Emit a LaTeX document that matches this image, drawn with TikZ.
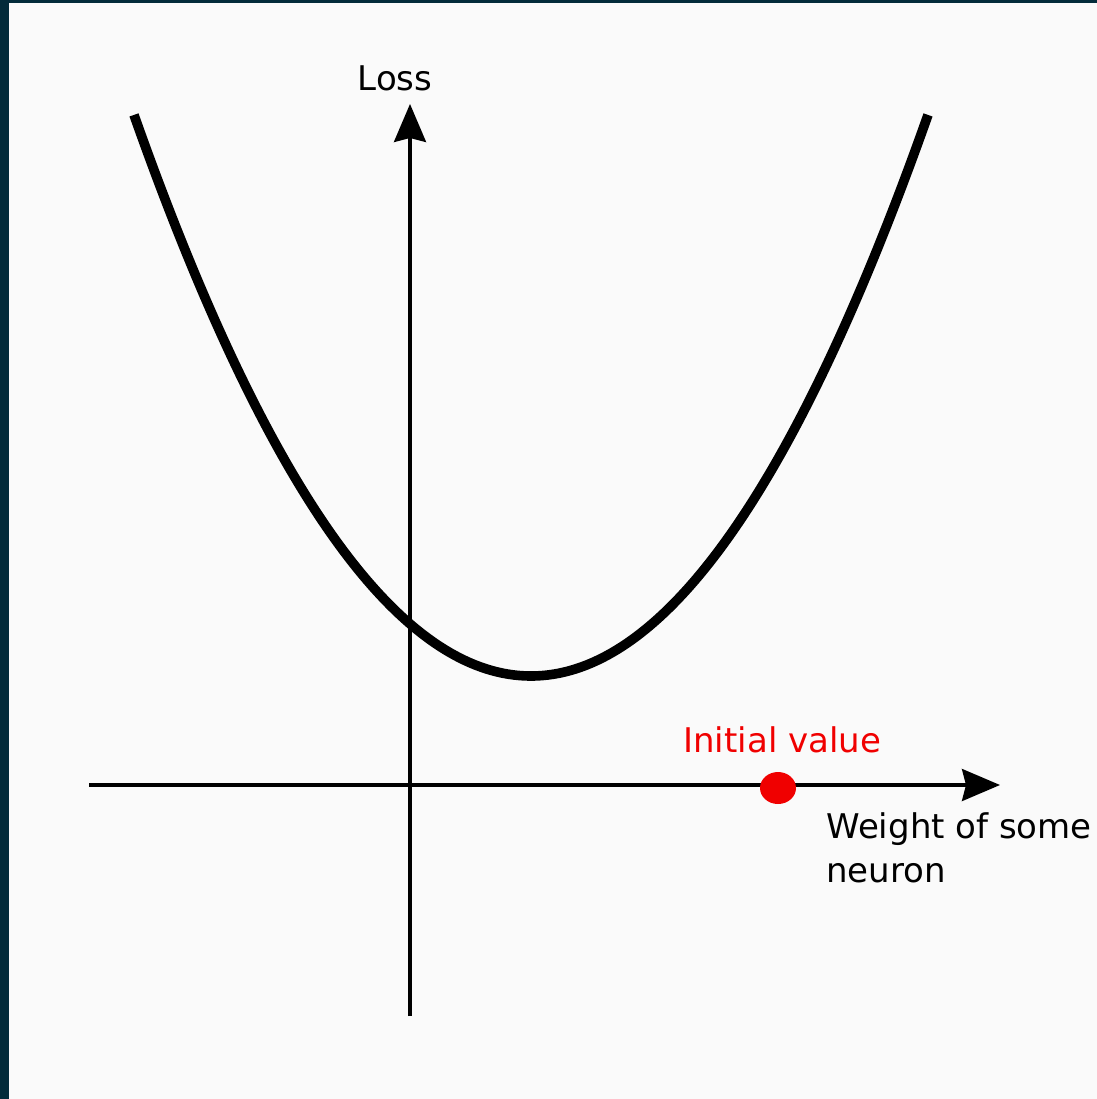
\documentclass[tikz,border=0pt]{standalone}
\usepackage{fontspec}
\setmainfont{DejaVu Sans}
\usetikzlibrary{arrows.meta}
\definecolor{frame}{RGB}{3,43,58}
\definecolor{paper}{RGB}{250,250,250}
\definecolor{dotred}{RGB}{240,0,0}
\tikzset{
  axis/.style={line width=1.6pt, -{Stealth[length=19pt,width=16pt,inset=2pt]}},
  lossline/.style={line width=4.8pt},
  lbl/.style={font=\fontsize{17}{22}\selectfont, inner sep=0pt},
}
\begin{document}
\begin{tikzpicture}[x=0.5pt,y=-0.5pt]
\useasboundingbox (0,0) rectangle (1097,1099);
\fill[frame] (0,0) rectangle (1097,1099);
\fill[paper] (9,3) rectangle (1097,1099);
% axes
\coordinate (ybot) at (410,1016);
\coordinate (ytop) at (410,104);
\coordinate (xleft) at (89,785);
\coordinate (xright) at (1000,785);
\draw[axis] (ybot) -- (ytop);
\draw[axis] (xleft) -- (xright);
% loss curve
\draw[lossline, domain=134:928, samples=120, smooth]
  plot (\x, {676 - 0.356*((\x-531)/10)*((\x-531)/10)});
% initial value point
\fill[dotred] (778,788) ellipse [x radius=18, y radius=16];
% labels
\node[lbl, anchor=base] (loss) at (395,90) {Loss};
\node[lbl, anchor=base west, text=dotred] (init) at (683,752) {Initial value};
\node[lbl, anchor=base west, align=left] (wlab) at (826,838) {Weight of some};
\node[lbl, anchor=base west] (nlab) at (826,882) {neuron};
\end{tikzpicture}
\end{document}
